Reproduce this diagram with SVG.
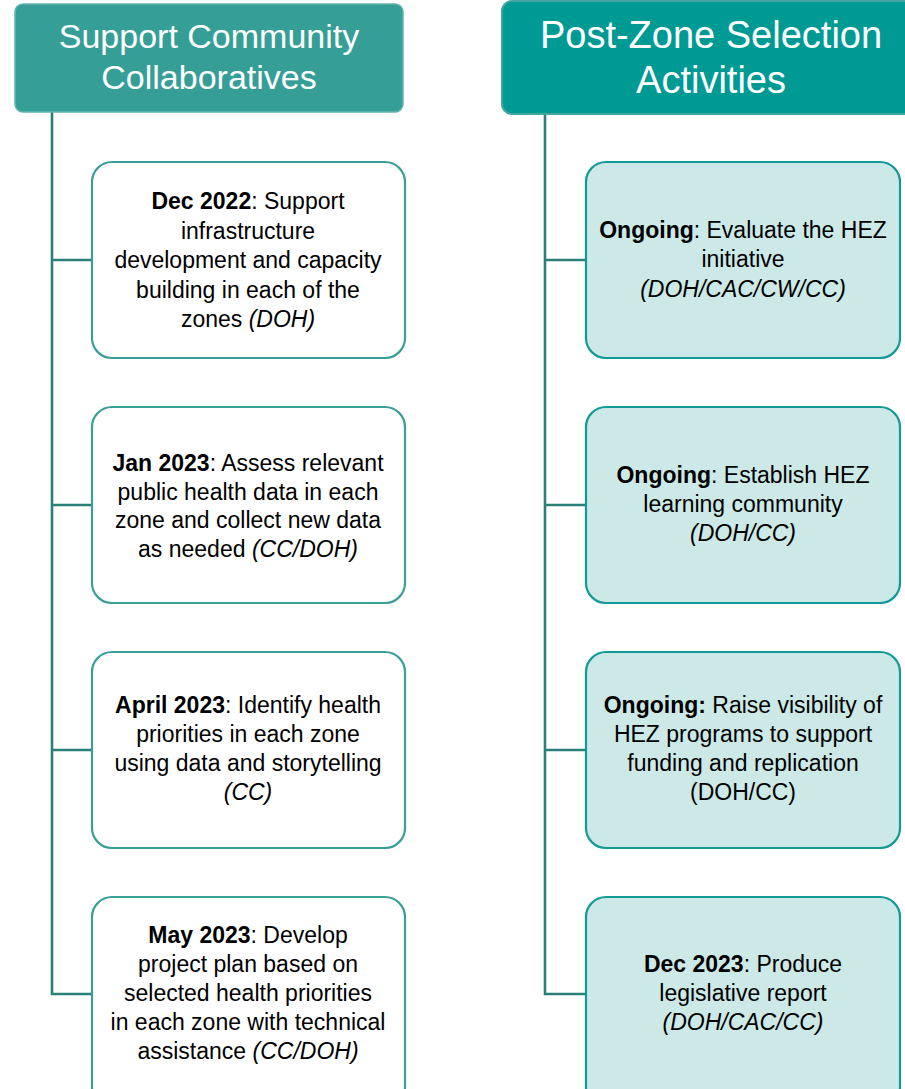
<svg xmlns="http://www.w3.org/2000/svg" width="905" height="1089" viewBox="0 0 905 1089">
<style>
.hdr1{fill:#359e96;stroke:#62b4ae;stroke-width:1.5}
.hdr2{fill:#009a94;stroke:#40a69f;stroke-width:2}
.ht{font-family:"Liberation Sans",Arial,sans-serif;fill:#ffffff;text-anchor:middle}
.boxL{fill:#ffffff;stroke:#3a9f97;stroke-width:2.2}
.boxR{fill:#cce9e8;stroke:#129a97;stroke-width:2.2}
.t{font-family:"Liberation Sans",Arial,sans-serif;font-size:23px;fill:#000000;text-anchor:middle}
.b{font-weight:bold}
.i{font-style:italic}
.conn{fill:none;stroke:#2b7f79;stroke-width:2.6}
</style>
<g id="connectors">
<path class="conn" d="M52,112 V994 H92 M52,260 H92 M52,505 H92 M52,750 H92"/>
<path class="conn" d="M545,114 V994 H586 M545,260 H586 M545,505 H586 M545,750 H586"/>
</g>
<g id="header-left">
<rect class="hdr1" x="15" y="4" width="388" height="108" rx="8"/>
<text class="ht" x="209" y="48" font-size="34">Support Community</text>
<text class="ht" x="209" y="89" font-size="34">Collaboratives</text>
</g>
<g id="header-right">
<rect class="hdr2" x="502" y="1" width="412" height="113" rx="10"/>
<text class="ht" x="711" y="48" font-size="38">Post-Zone Selection</text>
<text class="ht" x="711" y="93" font-size="38">Activities</text>
</g>
<g id="left-1">
<rect class="boxL" x="92" y="162" width="313" height="196" rx="20"/>
<text class="t" x="248" y="209"><tspan class="b">Dec 2022</tspan>: Support</text>
<text class="t" x="248" y="239">infrastructure</text>
<text class="t" x="248" y="268">development and capacity</text>
<text class="t" x="248" y="298">building in each of the</text>
<text class="t" x="248" y="327">zones <tspan class="i">(DOH)</tspan></text>
</g>
<g id="left-2">
<rect class="boxL" x="92" y="407" width="313" height="196" rx="20"/>
<text class="t" x="248" y="471"><tspan class="b">Jan 2023</tspan>: Assess relevant</text>
<text class="t" x="248" y="500">public health data in each</text>
<text class="t" x="248" y="528">zone and collect new data</text>
<text class="t" x="248" y="557">as needed <tspan class="i">(CC/DOH)</tspan></text>
</g>
<g id="left-3">
<rect class="boxL" x="92" y="652" width="313" height="196" rx="20"/>
<text class="t" x="248" y="713"><tspan class="b">April 2023</tspan>: Identify health</text>
<text class="t" x="248" y="742">priorities in each zone</text>
<text class="t" x="248" y="771">using data and storytelling</text>
<text class="t" x="248" y="800"><tspan class="i">(CC)</tspan></text>
</g>
<g id="left-4">
<rect class="boxL" x="92" y="897" width="313" height="210" rx="20"/>
<text class="t" x="248" y="943"><tspan class="b">May 2023</tspan>: Develop</text>
<text class="t" x="248" y="972">project plan based on</text>
<text class="t" x="248" y="1001">selected health priorities</text>
<text class="t" x="248" y="1030">in each zone with technical</text>
<text class="t" x="248" y="1059">assistance <tspan class="i">(CC/DOH)</tspan></text>
</g>
<g id="right-1">
<rect class="boxR" x="586" y="162" width="314" height="196" rx="20"/>
<text class="t" x="743" y="238"><tspan class="b">Ongoing</tspan>: Evaluate the HEZ</text>
<text class="t" x="743" y="267">initiative</text>
<text class="t i" x="743" y="297">(DOH/CAC/CW/CC)</text>
</g>
<g id="right-2">
<rect class="boxR" x="586" y="407" width="314" height="196" rx="20"/>
<text class="t" x="743" y="483"><tspan class="b">Ongoing</tspan>: Establish HEZ</text>
<text class="t" x="743" y="512">learning community</text>
<text class="t i" x="743" y="541">(DOH/CC)</text>
</g>
<g id="right-3">
<rect class="boxR" x="586" y="652" width="314" height="196" rx="20"/>
<text class="t" x="743" y="713"><tspan class="b">Ongoing:</tspan> Raise visibility of</text>
<text class="t" x="743" y="742">HEZ programs to support</text>
<text class="t" x="743" y="771">funding and replication</text>
<text class="t" x="743" y="800">(DOH/CC)</text>
</g>
<g id="right-4">
<rect class="boxR" x="586" y="897" width="314" height="210" rx="20"/>
<text class="t" x="743" y="972"><tspan class="b">Dec 2023</tspan>: Produce</text>
<text class="t" x="743" y="1001">legislative report</text>
<text class="t i" x="743" y="1030">(DOH/CAC/CC)</text>
</g>
</svg>
